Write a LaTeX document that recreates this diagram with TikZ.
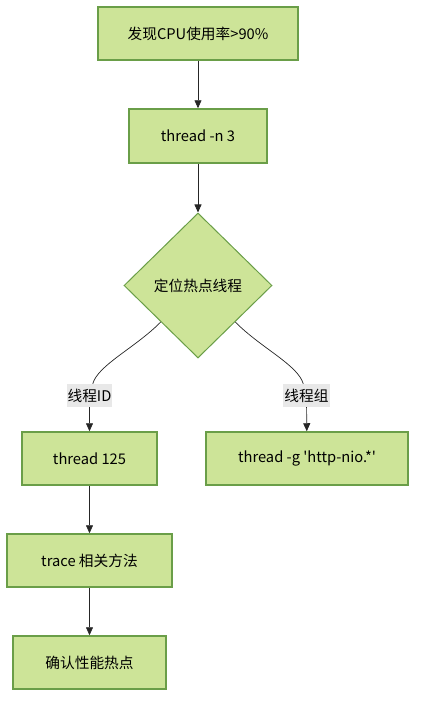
\documentclass[tikz,border=0pt]{standalone}
\usepackage{fontspec}
\setmainfont{Noto Sans CJK SC}[Ligatures=TeXOff]
\usepackage{tikz}
\usetikzlibrary{arrows.meta,shapes.geometric}
\definecolor{nodefill}{HTML}{CDE498}
\definecolor{nodeline}{HTML}{6A9E48}
\definecolor{labelfill}{HTML}{E8E8E8}
\tikzset{
    stepbox/.style={draw=nodeline, fill=nodefill, line width=1.5pt, inner sep=0pt,
        font=\fontsize{14.7}{17}\selectfont},
    choice/.style={diamond, draw=nodeline, fill=nodefill, line width=1pt, inner sep=0pt,
        minimum width=148pt, minimum height=145pt, font=\fontsize{14.7}{17}\selectfont},
    edgelabel/.style={fill=labelfill, inner sep=1pt, minimum height=23pt,
        font=\fontsize{14.7}{17}\selectfont},
    flow/.style={draw=black!85, line width=0.7pt, -{Triangle[length=8pt,width=7pt]}},
    flownoarrow/.style={draw=black!85, line width=0.7pt},
}

\begin{document}
\begin{tikzpicture}[x=1pt, y=-1pt]
	\useasboundingbox (0,0) rectangle (424,710);
	\node[stepbox, minimum width=200pt, minimum height=53pt] (found) at (198,33.5) {发现CPU使用率>90\%};
	\node[stepbox, minimum width=138pt, minimum height=54pt] (top) at (198,136) {thread -n 3};
	\node[choice] (locate) at (198,285.5) {定位热点线程};
	\node[stepbox, minimum width=135pt, minimum height=53pt] (byid) at (89.5,458.5) {thread 125};
	\node[stepbox, minimum width=202pt, minimum height=53pt] (bygroup) at (307,458.5) {thread -g 'http-nio.*'};
	\node[stepbox, minimum width=165pt, minimum height=53pt] (trace) at (89.5,560.5) {trace 相关方法};
	\node[stepbox, minimum width=153pt, minimum height=53pt] (confirm) at (89.5,662.5) {确认性能热点};
	\node[edgelabel] (lblid) at (89.5,395.5) {线程ID};
	\node[edgelabel] (lblgroup) at (306.5,395.5) {线程组};
	\draw[flow] (found) -- (top);
	\draw[flow] (top) -- (locate);
	\draw[flownoarrow] (locate.south west) .. controls (135,348) and (98,365) .. (lblid);
	\draw[flow] (lblid) -- (byid);
	\draw[flownoarrow] (locate.south east) .. controls (261,348) and (298,365) .. (lblgroup);
	\draw[flow] (lblgroup) -- (bygroup);
	\draw[flow] (byid) -- (trace);
	\draw[flow] (trace) -- (confirm);
\end{tikzpicture}
\end{document}
